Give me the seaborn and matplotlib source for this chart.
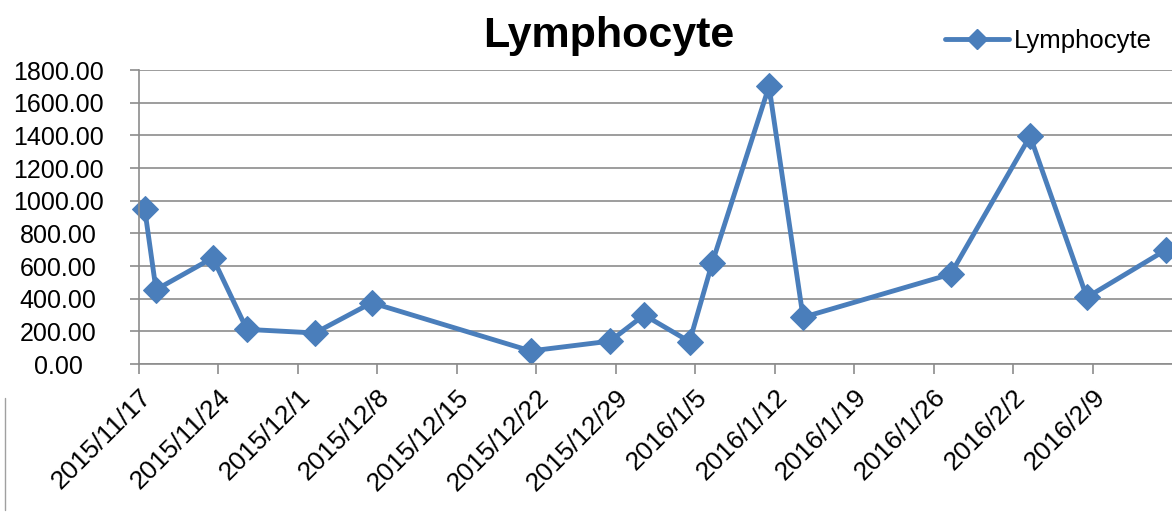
import pandas as pd
import matplotlib
matplotlib.use("Agg")
import matplotlib.pyplot as plt
import matplotlib.dates as mdates
from matplotlib.lines import Line2D
import seaborn as sns

# data
dates = ["2015-11-17", "2015-11-18", "2015-11-23", "2015-11-26", "2015-12-02",
         "2015-12-07", "2015-12-21", "2015-12-28", "2015-12-31", "2016-01-04",
         "2016-01-06", "2016-01-11", "2016-01-14", "2016-01-27", "2016-02-03",
         "2016-02-08", "2016-02-15"]
lymphocyte = [950, 455, 650, 212, 190, 375, 80, 140, 300, 137,
              620, 1700, 286, 550, 1395, 408, 700]
tick_dates = pd.date_range("2015-11-17", "2016-02-09", freq="7D")

df = pd.DataFrame({"date": pd.to_datetime(dates), "Lymphocyte": lymphocyte})
# Excel date axis puts points in the middle of the day
df["date"] = df["date"] + pd.Timedelta(hours=12)

sns.set_theme(style="white")
plt.rcParams["font.family"] = ["Liberation Sans", "DejaVu Sans"]
plt.rcParams["text.color"] = "black"

blue = "#4a7ebb"
grey = "#8c8c8c"

fig = plt.figure(figsize=(11.72, 5.13), dpi=100)
ax = fig.add_axes([139 / 1172, 1 - 364 / 513, 1 - 139 / 1172, (364 - 70) / 513])

sns.lineplot(data=df, x="date", y="Lymphocyte", ax=ax, color=blue, lw=3.5,
             marker="D", markersize=13, markeredgecolor=blue, label="Lymphocyte",
             clip_on=False, legend=False)

ax.set_xlim(pd.Timestamp("2015-11-17"), pd.Timestamp("2016-02-16"))
ax.set_ylim(0, 1800)
ax.set_yticks(range(0, 1801, 200))
ax.yaxis.set_major_formatter(plt.FuncFormatter(lambda v, p: "%.2f" % v))
ax.set_xticks(tick_dates)
ax.xaxis.set_major_formatter(plt.FuncFormatter(
    lambda v, p: "{0.year}/{0.month}/{0.day}".format(mdates.num2date(v))))
ax.set_xlabel("")
ax.set_ylabel("")

ax.grid(axis="y", color=grey, lw=1.2)
ax.grid(axis="x", visible=False)
for s in ["top", "right"]:
    ax.spines[s].set_visible(False)
for s in ["left", "bottom"]:
    ax.spines[s].set_color(grey)
    ax.spines[s].set_linewidth(1.2)

# y labels are centred in the left margin, like Excel does it
ax.tick_params(axis="y", labelsize=18, length=6.5, width=1.2, color=grey,
               left=True, pad=51.8, labelcolor="black")
ax.tick_params(axis="x", labelsize=19, length=7, width=1.2, color=grey,
               bottom=True, pad=8, labelcolor="black")
for lab in ax.get_yticklabels():
    lab.set_ha("center")
for lab in ax.get_xticklabels():
    lab.set_rotation(45)
    lab.set_ha("right")
    lab.set_va("top")
    lab.set_rotation_mode("anchor")

fig.text(0.519, 0.93, "Lymphocyte", ha="center", va="center",
         fontsize=31, fontweight="bold", color="black")

handle = Line2D([], [], color=blue, lw=3.5, marker="D", markersize=10)
fig.legend([handle], ["Lymphocyte"], loc="center left",
           bbox_to_anchor=(945 / 1172, 1 - 41 / 513), frameon=False,
           fontsize=18.5, handlelength=2.5, handletextpad=0.2,
           borderaxespad=0, borderpad=0)

# border fragment of the original chart frame
fig.add_artist(Line2D([5 / 1172, 5 / 1172], [1 - 398 / 513, 1 - 510 / 513],
                      color="#a0a0a0", lw=1))

fig.savefig("out.png", dpi=100)
